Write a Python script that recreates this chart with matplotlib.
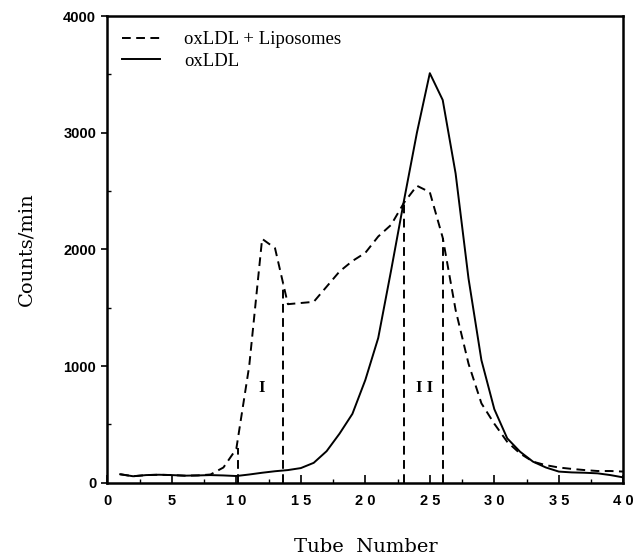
import numpy as np
import matplotlib
matplotlib.use("Agg")
from matplotlib import pyplot as plt
from matplotlib.ticker import MultipleLocator

# Tube numbers 1..40
tube = list(range(1, 41))

# oxLDL alone (solid)
oxldl = [72, 55, 65, 68, 65, 60, 62, 65, 62, 57,
         70, 85, 98, 108, 125, 170, 270, 420, 590, 880,
         1240, 1820, 2420, 3000, 3510, 3280, 2650, 1750, 1050, 630,
         380, 265, 180, 130, 95, 88, 85, 80, 65, 45]

# oxLDL + Liposomes (dashed)
oxldl_lipo = [72, 55, 65, 68, 65, 60, 62, 70, 130, 290,
              1000, 2090, 2010, 1530, 1540, 1550, 1680, 1810, 1900, 1970,
              2110, 2210, 2400, 2545, 2490, 2100, 1480, 1020, 680, 505,
              350, 250, 180, 150, 130, 118, 108, 100, 100, 95]

# fraction boundaries (tube number, top of the marker line)
bounds_x = [10.1, 13.64, 23.0, 26.0]
bounds_top = [300, 1700, 2420, 2100]

peak_labels = ["I", "I I"]
peak_x = [12.0, 24.6]
peak_y = [810, 810]

serif = "Liberation Serif"
wide_serif = "DejaVu Serif"
sans = "Liberation Sans"

fig = plt.figure(figsize=(6.35, 5.58), dpi=100)
ax = fig.add_axes([0.169, 0.135, 0.8126, 0.8363])

dash = (0, (4.5, 2.8))
ax.plot(tube, oxldl_lipo, color="black", lw=1.4, linestyle=dash, label="oxLDL + Liposomes")
ax.plot(tube, oxldl, color="black", lw=1.4, label="oxLDL")

for bx, bt in zip(bounds_x, bounds_top):
    ax.plot([bx, bx], [0, bt], color="black", lw=1.4, linestyle=dash)

for lab, px, py in zip(peak_labels, peak_x, peak_y):
    ax.text(px, py, lab, ha="center", va="center", fontsize=12,
            family=serif, fontweight="bold")

ax.set_xlim(0, 40)
ax.set_ylim(0, 4000)

xt = [0, 5, 10, 15, 20, 25, 30, 35, 40]
ax.set_xticks(xt)
ax.set_xticklabels([" ".join(str(v)) for v in xt], family=sans,
                   fontweight="bold", fontsize=10.5)
ax.xaxis.set_minor_locator(MultipleLocator(2.5))
yt = [0, 1000, 2000, 3000, 4000]
ax.set_yticks(yt)
ax.set_yticklabels([str(v) for v in yt], family=sans,
                   fontweight="bold", fontsize=10.5)
ax.yaxis.set_minor_locator(MultipleLocator(500))

ax.tick_params(axis="x", which="major", direction="in", length=6, width=1.2, pad=8)
ax.tick_params(axis="x", which="minor", direction="in", length=3, width=1.0)
ax.tick_params(axis="y", which="major", direction="out", length=4, width=1.2, pad=4)
ax.tick_params(axis="y", which="minor", direction="in", length=3, width=1.0)

for sp in ax.spines.values():
    sp.set_linewidth(1.8)

ax.set_xlabel("Tube  Number", family=wide_serif, fontsize=14, labelpad=22)
ax.set_ylabel("Counts/min", family=wide_serif, fontsize=14, labelpad=20)

leg = ax.legend(loc="upper left", frameon=False,
                prop={"family": serif, "size": 13.5},
                handlelength=2.0, handletextpad=1.3, borderaxespad=0.4,
                labelspacing=0.25)

fig.savefig("out.png", dpi=100)
